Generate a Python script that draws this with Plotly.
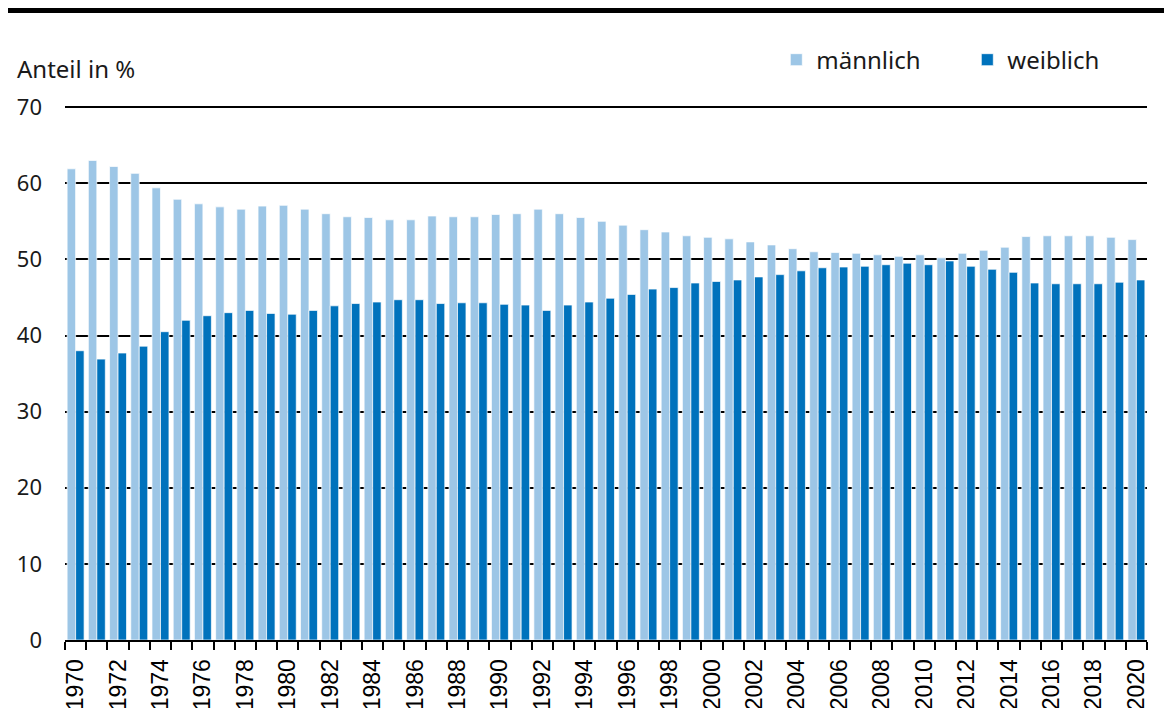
import plotly.graph_objects as go

years = list(range(1970, 2021))

maennlich = [
    61.9, 63.0, 62.2, 61.3, 59.4, 57.9, 57.3, 56.9, 56.6, 57.0,
    57.1, 56.6, 56.0, 55.6, 55.5, 55.2, 55.2, 55.7, 55.6, 55.6,
    55.9, 56.0, 56.6, 56.0, 55.5, 55.0, 54.5, 53.9, 53.6, 53.1,
    52.9, 52.7, 52.3, 51.9, 51.4, 51.0, 50.9, 50.8, 50.6, 50.4,
    50.6, 50.2, 50.8, 51.2, 51.6, 53.0, 53.1, 53.1, 53.1, 52.9,
    52.6,
]

weiblich = [
    38.0, 36.9, 37.7, 38.6, 40.5, 42.0, 42.6, 43.0, 43.3, 42.9,
    42.8, 43.3, 43.9, 44.2, 44.4, 44.7, 44.7, 44.2, 44.3, 44.3,
    44.1, 44.0, 43.3, 44.0, 44.4, 44.9, 45.4, 46.1, 46.3, 46.9,
    47.1, 47.3, 47.7, 48.0, 48.5, 48.9, 49.0, 49.1, 49.3, 49.5,
    49.3, 49.8, 49.1, 48.7, 48.3, 46.9, 46.8, 46.8, 46.8, 47.0,
    47.3,
]

tick_text = [str(y) if y % 2 == 0 else "" for y in years]

FONT = "Source Sans Pro, Noto Sans, sans-serif"

fig = go.Figure()
fig.add_trace(go.Bar(
    x=years, y=maennlich, name="männlich",
    marker=dict(color="#9DC6E6", line=dict(color="rgba(255,255,255,0.7)", width=1)),
))
fig.add_trace(go.Bar(
    x=years, y=weiblich, name="weiblich",
    marker=dict(color="#0072BC", line=dict(color="rgba(255,255,255,0.7)", width=1)),
))

# page has an 8px body margin, so the figure is 8px smaller than the window
fig.update_layout(
    width=1164,
    height=700,
    barmode="group",
    bargap=0.2,
    bargroupgap=0,
    paper_bgcolor="white",
    plot_bgcolor="white",
    margin=dict(l=57, r=25, t=98, b=68, autoexpand=False),
    font=dict(family=FONT, size=22, color="#1a1a1a"),
    legend=dict(
        orientation="h",
        x=0.6574, xanchor="left",
        y=1.086, yanchor="middle",
        font=dict(size=24),
        entrywidth=146, entrywidthmode="pixels",
        bgcolor="rgba(0,0,0,0)",
    ),
    xaxis=dict(
        type="category",
        tickvals=years,
        ticktext=tick_text,
        tickson="boundaries",
        ticks="outside",
        ticklen=8,
        tickwidth=2,
        tickcolor="black",
        tickangle=-90,
        ticklabelstandoff=8,
        showline=True,
        linecolor="black",
        linewidth=2,
        showgrid=False,
        tickfont=dict(family="Liberation Sans, Arial, sans-serif", size=23, color="black"),
    ),
    yaxis=dict(
        range=[0, 70.15],
        tickvals=[0, 10, 20, 30, 40, 50, 60, 70],
        showgrid=True,
        gridcolor="black",
        gridwidth=2,
        zeroline=False,
        ticks="",
        ticklabelstandoff=22,
        tickfont=dict(size=22),
    ),
    annotations=[
        dict(
            text="Anteil in %", xref="paper", yref="paper",
            x=-0.0462, y=1.071, xanchor="left", yanchor="middle",
            showarrow=False, font=dict(size=24),
        )
    ],
    shapes=[
        dict(
            type="line", xref="paper", yref="paper",
            x0=-0.053, x1=1.025, y0=1.179, y1=1.179,
            line=dict(color="black", width=5),
        )
    ],
)

fig.write_html("out.html")
